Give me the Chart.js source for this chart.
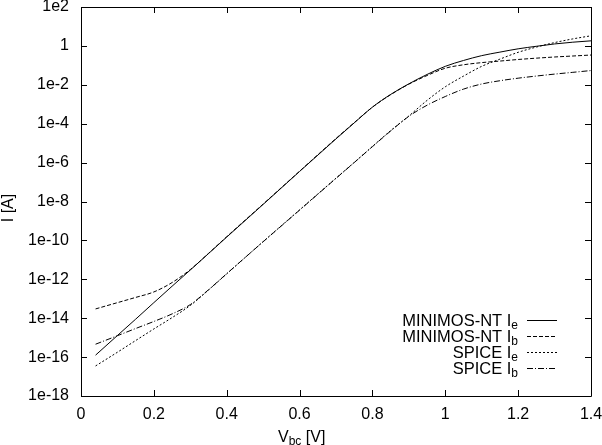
<!DOCTYPE html>
<html>
<head>
<meta charset="utf-8">
<script src="https://cdn.jsdelivr.net/npm/chart.js@4.4.1/dist/chart.umd.min.js"></script>
<style>
  html, body { margin: 0; padding: 0; background: #fff; }
</style>
</head>
<body>
<canvas id="grafico" width="602" height="445"></canvas>
<script>
// Vbc sweep (V)
const vbc = [0.04, 0.1, 0.15, 0.2, 0.25, 0.3, 0.35, 0.4, 0.5, 0.6, 0.7, 0.75, 0.8,
             0.85, 0.9, 0.95, 1.0, 1.05, 1.1, 1.15, 1.2, 1.25, 1.3, 1.35, 1.4];

// currents (A)
const minimosIe = [1.26e-16, 1.29e-15, 8.9e-15, 6.3e-14, 4.4e-13, 3.0e-12, 2.1e-11, 1.48e-10, 7.1e-9,
                   3.5e-7, 1.66e-5, 1.1e-4, 7.1e-4, 3.2e-3, 1.12e-2, 3.4e-2, 8.9e-2,
                   0.178, 0.316, 0.479, 0.708, 0.955, 1.26, 1.55, 1.82];
const minimosIb = [3.0e-14, 6.3e-14, 1.17e-13, 2.24e-13, 6.8e-13, 3.16e-12, 2.15e-11, 1.55e-10, 7.4e-9,
                   3.6e-7, 1.74e-5, 1.13e-4, 7.1e-4, 3.1e-3, 1.08e-2, 3.0e-2, 7.1e-2,
                   0.107, 0.138, 0.166, 0.2, 0.234, 0.269, 0.302, 0.339];
const spiceIe = [3.5e-17, 1.78e-16, 7.1e-16, 2.8e-15, 1.07e-14, 4.5e-14, 2.8e-13, 1.9e-12, 8.7e-11,
                 3.7e-9, 1.58e-7, 1.02e-6, 6.8e-6, 4.4e-5, 2.5e-4, 1.58e-3, 7.9e-3,
                 2.8e-2, 8.9e-2, 0.209, 0.468, 0.871, 1.48, 2.29, 3.31];
const spiceIb = [4.6e-16, 1.26e-15, 2.95e-15, 6.8e-15, 1.66e-14, 5.0e-14, 2.9e-13, 1.95e-12, 8.5e-11,
                 3.6e-9, 1.55e-7, 1.0e-6, 6.6e-6, 4.2e-5, 2.4e-4, 8.9e-4, 2.5e-3,
                 6.0e-3, 1.1e-2, 1.62e-2, 2.19e-2, 2.82e-2, 3.55e-2, 4.37e-2, 5.4e-2];

const seriesNames = ['MINIMOS-NT I', 'MINIMOS-NT I', 'SPICE I', 'SPICE I'];
const seriesSubs = ['e', 'b', 'e', 'b'];

const xTicks = [0, 0.2, 0.4, 0.6, 0.8, 1.0, 1.2, 1.4];
const xTickLabels = ['0', '0.2', '0.4', '0.6', '0.8', '1', '1.2', '1.4'];
const yTicks = [1e-18, 1e-16, 1e-14, 1e-12, 1e-10, 1e-8, 1e-6, 1e-4, 1e-2, 1, 1e2];
const yTickLabels = ['1e-18', '1e-16', '1e-14', '1e-12', '1e-10', '1e-8', '1e-6', '1e-4', '1e-2', '1', '1e2'];

const FONT = '"Liberation Sans", Arial, sans-serif';

function pontos(ys) {
    return vbc.map((v, i) => ({ x: v, y: ys[i] }));
}

function serie(label, ys, dash) {
    return {
        label: label,
        data: pontos(ys),
        borderColor: '#000',
        borderWidth: 1,
        borderDash: dash,
        pointRadius: 0,
        fill: false,
        cubicInterpolationMode: 'monotone'
    };
}

// frame + inward ticks like gnuplot
const moldura = {
    id: 'moldura',
    afterDraw(chart) {
        const { ctx, chartArea: a, scales } = chart;
        ctx.save();
        ctx.strokeStyle = '#000';
        ctx.lineWidth = 1;
        ctx.beginPath();
        ctx.rect(a.left + 0.5, a.top + 0.5, a.right - a.left, a.bottom - a.top);
        xTicks.forEach(v => {
            const px = Math.round(scales.x.getPixelForValue(v)) + 0.5;
            ctx.moveTo(px, a.bottom); ctx.lineTo(px, a.bottom - 6);
            ctx.moveTo(px, a.top); ctx.lineTo(px, a.top + 6);
        });
        yTicks.forEach(v => {
            const py = Math.round(scales.y.getPixelForValue(v)) + 0.5;
            ctx.moveTo(a.left, py); ctx.lineTo(a.left + 6, py);
            ctx.moveTo(a.right, py); ctx.lineTo(a.right - 6, py);
        });
        ctx.stroke();
        ctx.restore();
    }
};

// key in the lower right, text right-aligned with subscripts
const legenda = {
    id: 'legenda',
    afterDraw(chart) {
        const ctx = chart.ctx;
        ctx.save();
        ctx.fillStyle = '#000';
        ctx.strokeStyle = '#000';
        ctx.lineWidth = 1;
        chart.data.datasets.forEach((ds, i) => {
            const y = 320 + i * 16;
            const base = y + 6;
            ctx.font = '16.5px ' + FONT;
            const wMain = ctx.measureText(seriesNames[i]).width;
            ctx.font = '12px ' + FONT;
            const wSub = ctx.measureText(seriesSubs[i]).width;
            const x0 = 518 - wMain - wSub;
            ctx.font = '16.5px ' + FONT;
            ctx.fillText(seriesNames[i], x0, base);
            ctx.font = '12px ' + FONT;
            ctx.fillText(seriesSubs[i], x0 + wMain, base + 3);
            ctx.setLineDash(ds.borderDash || []);
            ctx.beginPath();
            ctx.moveTo(527, y + 0.5);
            ctx.lineTo(557, y + 0.5);
            ctx.stroke();
            ctx.setLineDash([]);
        });
        ctx.restore();
    }
};

// axis titles
const titulos = {
    id: 'titulos',
    afterDraw(chart) {
        const ctx = chart.ctx;
        ctx.save();
        ctx.fillStyle = '#000';
        ctx.font = '16px ' + FONT;
        let x = 278;
        ctx.fillText('V', x, 442);
        x += ctx.measureText('V').width;
        ctx.font = '12px ' + FONT;
        ctx.fillText('bc', x, 445);
        x += ctx.measureText('bc').width;
        ctx.font = '16px ' + FONT;
        ctx.fillText(' [V]', x, 442);

        ctx.translate(13, 208);
        ctx.rotate(-Math.PI / 2);
        ctx.textAlign = 'center';
        ctx.fillText('I [A]', 0, 0);
        ctx.restore();
    }
};

const ctx = document.getElementById('grafico').getContext('2d');

new Chart(ctx, {
    type: 'line',
    data: {
        datasets: [
            serie('MINIMOS-NT Ie', minimosIe, []),
            serie('MINIMOS-NT Ib', minimosIb, [4, 2]),
            serie('SPICE Ie', spiceIe, [2, 2]),
            serie('SPICE Ib', spiceIb, [6, 2, 1, 2])
        ]
    },
    options: {
        responsive: false,
        animation: false,
        devicePixelRatio: 1,
        layout: { padding: { left: 0, right: 11, top: 7, bottom: 0 } },
        plugins: {
            legend: { display: false },
            tooltip: { enabled: false }
        },
        scales: {
            x: {
                type: 'linear',
                min: 0,
                max: 1.4,
                grid: { display: false, drawTicks: false },
                border: { display: false },
                afterBuildTicks: s => { s.ticks = xTicks.map(v => ({ value: v })); },
                afterFit: s => { s.height = 49; s.paddingLeft = 0; s.paddingRight = 0; },
                ticks: {
                    color: '#000',
                    padding: 9,
                    maxRotation: 0,
                    autoSkip: false,
                    font: { family: FONT, size: 16 },
                    callback: (v, i) => xTickLabels[i]
                }
            },
            y: {
                type: 'logarithmic',
                min: 1e-18,
                max: 1e2,
                grid: { display: false, drawTicks: false },
                border: { display: false },
                afterBuildTicks: s => { s.ticks = yTicks.map(v => ({ value: v })); },
                afterFit: s => { s.width = 81; s.paddingTop = 0; s.paddingBottom = 0; },
                ticks: {
                    color: '#000',
                    padding: 12,
                    autoSkip: false,
                    font: { family: FONT, size: 16 },
                    callback: (v, i) => yTickLabels[i]
                }
            }
        }
    },
    plugins: [moldura, legenda, titulos]
});
</script>
</body>
</html>
